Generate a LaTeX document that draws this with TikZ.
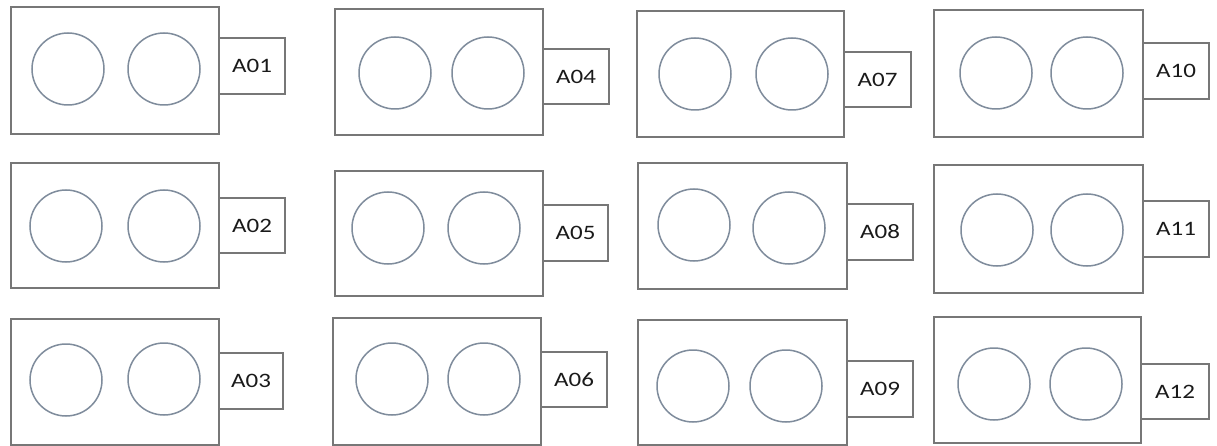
\documentclass[tikz,border=0pt]{standalone}
\usepackage{fontspec}
\usepackage{graphicx}
\setmainfont{Carlito}
\usetikzlibrary{fit}
\definecolor{frame}{HTML}{777777}
\definecolor{rim}{HTML}{7F8C9C}
\definecolor{ink}{HTML}{1A1A1A}
\tikzset{
  case/.style={draw=frame, line width=1.5pt, inner sep=0pt},
  rim/.style={draw=rim, line width=1.5pt, circle, minimum size=72pt, inner sep=0pt},
  tag/.style={draw=frame, line width=1.5pt, inner sep=0pt},
  tagtext/.style={font=\fontsize{20.5}{22}\selectfont, text=ink, inner sep=0pt},
}
\begin{document}
\begin{tikzpicture}[x=1pt, y=-1pt]
  \fill[white] (0,0) rectangle (1217,446);
  \useasboundingbox (0,0) rectangle (1217,446);
  % id / case corners / left socket / right socket / tab top, bottom, right
  \foreach \n/\xa/\ya/\xb/\yb/\pa/\qa/\pb/\qb/\ta/\tb/\tc in {
    A01/11/7/219/134/68/69/164/69/38/94/285,
    A02/11/163/219/288/66/226/164/226/198/253/285,
    A03/11/319/219/445/66/380/164/379/353/409/283,
    A04/335/9/543/135/395/73/488/73/49/104/609,
    A05/335/171/543/296/388/228/484/228/205/261/608,
    A06/333/318/541/445/392/379/484/379/352/407/607,
    A07/637/11/844/137/695/74/792/74/52/107/911,
    A08/638/163/847/289/694/225/789/228/204/260/913,
    A09/638/320/847/445/693/386/786/386/361/417/913,
    A10/934/10/1143/137/996/73/1087/73/43/99/1209,
    A11/934/165/1143/293/997/230/1087/230/201/257/1209,
    A12/934/317/1141/443/994/384/1086/384/364/419/1209}
  {
    \node[case, fit={(\xa,\ya) (\xb,\yb)}] (case-\n) {};
    \node[rim] (left-\n) at (\pa,\qa) {};
    \node[rim] (right-\n) at (\pb,\qb) {};
    \node[tag, fit={(\xb,\ta) (\tc,\tb)}] (tab-\n) {};
    \node[tagtext] (label-\n) at (tab-\n.center) {\scalebox{1.22}[1]{\n}};
  }
\end{tikzpicture}
\end{document}
